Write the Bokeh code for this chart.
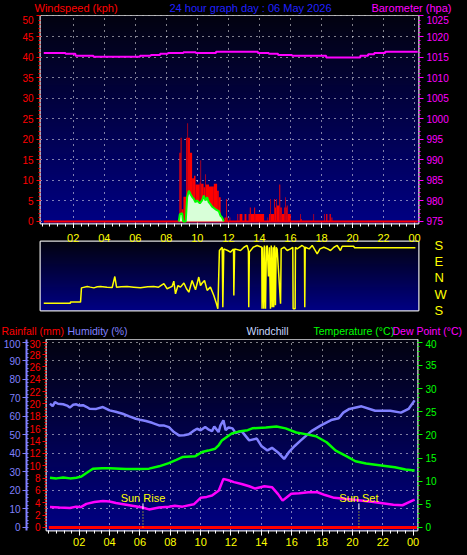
import numpy as np
from bokeh.plotting import figure
from bokeh.models import LinearAxis, Range1d, FixedTicker, SingleIntervalTicker
from bokeh.layouts import column
from bokeh.core.properties import value
from bokeh.embed import file_html
from bokeh.resources import INLINE

# ---------------- data ----------------
hour_ticks = [2, 4, 6, 8, 10, 12, 14, 16, 18, 20, 22, 24]
hour_labels = ["02", "04", "06", "08", "10", "12", "14", "16", "18", "20", "22", "00"]

# barometer (hPa), step series
baro_time = [0.1, 1.5, 2.14, 3.3, 6.3, 7.0, 7.6, 8.1, 9.1, 9.9, 11.2, 13.9, 14.6, 15.2, 16.1,
             18.3, 20.5, 21.0, 21.4, 22.1, 24.2]
baro_hpa = [1016.0, 1015.8, 1015.3, 1015.1, 1015.3, 1015.5, 1015.8, 1016.0, 1016.2, 1016.0,
            1016.3, 1016.0, 1015.8, 1015.5, 1015.3, 1014.9, 1015.3, 1015.7, 1016.0, 1016.3, 1016.3]

# wind gust bars (start hour, end hour, kph)
gusts = [(8.84, 8.92, 16.7), (8.92, 8.98, 20.4), (8.98, 9.10, 3.0), (9.10, 9.28, 6.0),
         (9.28, 9.36, 20.4), (9.36, 9.40, 23.9), (9.40, 9.52, 20.4), (9.52, 9.66, 16.7),
         (9.66, 9.78, 10.5), (9.78, 9.88, 11.1), (9.88, 10.15, 9.0), (10.15, 10.20, 9.5),
         (10.20, 10.24, 14.9), (10.24, 10.40, 9.2), (10.40, 10.50, 8.3), (10.50, 10.54, 11.5),
         (10.54, 10.75, 9.0), (10.75, 11.06, 8.5), (11.06, 11.27, 9.2), (11.27, 11.38, 7.5),
         (11.38, 11.50, 5.9), (11.50, 11.60, 1.0), (11.75, 11.85, 1.0), (11.85, 11.90, 5.5),
         (11.90, 11.96, 1.0), (12.07, 12.12, 1.0), (12.58, 12.63, 1.8), (12.72, 12.90, 1.8),
         (13.04, 13.16, 1.8), (13.30, 13.38, 1.8), (13.38, 13.44, 3.4), (13.44, 13.66, 1.8),
         (13.66, 13.72, 3.4), (13.72, 14.10, 1.8), (14.10, 14.30, 1.8), (14.52, 14.56, 1.0),
         (14.62, 14.70, 1.8), (14.70, 14.74, 5.5), (14.74, 14.95, 1.8), (14.95, 15.00, 5.5),
         (15.00, 15.08, 3.4), (15.08, 15.12, 5.5), (15.12, 15.28, 3.9), (15.28, 15.34, 9.0),
         (15.34, 15.44, 3.4), (15.44, 15.60, 1.8), (15.60, 15.66, 3.4), (15.66, 15.70, 5.9),
         (15.70, 15.76, 3.4), (15.76, 15.82, 3.9), (15.82, 16.02, 1.8), (16.62, 16.66, 1.8),
         (16.66, 16.72, 0.6), (17.48, 17.52, 1.8), (18.18, 18.22, 1.8), (18.30, 18.38, 1.8),
         (18.52, 18.60, 1.8), (18.64, 18.70, 1.0)]
calm_time = [0.1, 24.2]
calm_kph = [0.0, 0.0]

# average wind speed (hour, kph)
wind = [(8.80, 0), (8.87, 1.8), (9.02, 2.0), (9.08, 0), (9.25, 0), (9.34, 5.9), (9.45, 7.5),
        (9.55, 6.7), (9.66, 6.0), (9.77, 5.5), (9.88, 4.7), (9.98, 5.1), (10.16, 4.4),
        (10.31, 5.2), (10.41, 6.3), (10.52, 5.1), (10.63, 5.9), (10.73, 4.7), (10.84, 4.2),
        (10.95, 3.6), (11.06, 3.3), (11.23, 2.8), (11.38, 2.5), (11.49, 1.4), (11.59, 1.0),
        (11.70, 0)]

# wind direction (hour, unwrapped bearing: 180=S 270=W 360=N 450=E 540=S)
direction = [(0.10, 219), (1.82, 219), (1.82, 226), (2.47, 226), (2.53, 305), (2.90, 313),
             (3.10, 309), (3.33, 305), (3.55, 311), (3.76, 313), (4.18, 309), (4.51, 307),
             (4.68, 368), (4.79, 309), (5.10, 311), (5.47, 313), (5.90, 309), (6.33, 305),
             (6.80, 311), (7.19, 313), (7.50, 309), (7.84, 328), (8.05, 300), (8.37, 313),
             (8.48, 342), (8.59, 272), (8.75, 318), (8.91, 309), (9.13, 332), (9.30, 300),
             (9.45, 281), (9.66, 346), (9.88, 294), (10.09, 365), (10.20, 318), (10.31, 332),
             (10.46, 346), (10.63, 291), (10.84, 309), (11.06, 263), (11.23, 217), (11.32, 189),
             (11.42, 512), (11.60, 530), (11.64, 198), (11.70, 521), (11.95, 512), (12.13, 503),
             (12.33, 521), (12.35, 263), (12.40, 521), (12.78, 512), (13.00, 530), (13.20, 540),
             (13.29, 512), (13.31, 198), (13.35, 503), (13.60, 530), (13.85, 540), (14.15, 530),
             (14.17, 189), (14.20, 530), (14.28, 189), (14.32, 540), (14.39, 189), (14.45, 530),
             (14.50, 540), (14.58, 368), (14.64, 530), (14.71, 189), (14.76, 540), (14.82, 198),
             (14.88, 530), (14.92, 198), (14.97, 540), (15.03, 208), (15.08, 530), (15.14, 520),
             (15.36, 217), (15.40, 521), (15.60, 530), (15.79, 512), (16.00, 521), (16.15, 530),
             (16.17, 189), (16.30, 189), (16.32, 530), (16.43, 521), (16.75, 540), (16.90, 530),
             (16.92, 198), (16.95, 530), (17.20, 521), (17.40, 540), (17.60, 512), (17.72, 494),
             (17.90, 521), (18.15, 530), (18.40, 521), (18.58, 512), (18.80, 530), (19.01, 540),
             (19.22, 512), (19.33, 536), (20.08, 536), (20.12, 527), (24.05, 527)]
dir_ticks = [180, 270, 360, 450, 540]
dir_labels = ["S", "W", "N", "E", "S"]

humidity = [(0.07, 66.9), (0.25, 65.5), (0.4, 67.7), (0.6, 66.8), (0.94, 66.5), (1.2, 65.8),
            (1.38, 64.7), (1.6, 66.2), (1.81, 66.5), (2.0, 65.8), (2.25, 66.0), (2.5, 65.0),
            (2.68, 64.1), (3.12, 64.0), (3.56, 65.0), (4.0, 63.2), (4.4, 62.5), (4.86, 61.4),
            (5.3, 60.0), (5.73, 58.7), (6.0, 58.2), (6.39, 57.5), (6.8, 56.5), (7.26, 55.1),
            (7.6, 55.0), (7.91, 54.2), (8.24, 51.5), (8.57, 49.7), (8.9, 49.8), (9.22, 50.3),
            (9.5, 52.0), (9.76, 53.3), (10.0, 52.5), (10.3, 54.2), (10.5, 53.0), (10.75, 52.0),
            (10.9, 54.5), (11.18, 51.5), (11.3, 55.0), (11.5, 57.8), (11.65, 52.5), (11.84, 54.0),
            (12.1, 53.5), (12.3, 51.0), (12.7, 52.0), (13.2, 47.0), (13.7, 48.0), (14.0, 44.0),
            (14.4, 41.6), (14.7, 43.0), (15.1, 40.5), (15.5, 37.0), (15.8, 40.5), (16.2, 44.0),
            (16.6, 47.0), (17.3, 52.0), (17.9, 55.0), (18.6, 58.0), (19.1, 59.0), (19.4, 62.0),
            (19.8, 64.0), (20.6, 65.4), (21.5, 63.0), (22.5, 63.0), (23.2, 62.0), (23.7, 64.0),
            (24.1, 68.6)]

temperature = [(0.07, 10.75), (0.5, 10.6), (0.94, 10.8), (1.4, 10.6), (1.81, 10.75), (2.14, 11.0),
               (2.5, 11.8), (2.9, 12.7), (3.5, 12.8), (4.0, 12.8), (5.08, 12.6), (6.0, 12.6),
               (6.6, 12.7), (7.26, 13.2), (7.9, 13.9), (8.4, 14.6), (8.8, 15.2), (9.65, 15.4),
               (10.1, 16.3), (10.5, 16.6), (10.96, 17.0), (11.2, 17.8), (11.4, 18.8), (11.7, 19.5),
               (12.05, 20.3), (12.5, 20.7), (13.1, 21.0), (13.4, 21.4), (14.3, 21.6), (15.0, 21.8),
               (15.6, 21.4), (16.3, 20.5), (17.0, 20.1), (17.6, 19.7), (18.3, 18.4), (18.9, 16.6),
               (19.6, 15.4), (20.2, 14.3), (20.9, 13.8), (21.9, 13.4), (22.8, 13.0), (23.5, 12.5),
               (24.1, 12.3)]

dew_point = [(0.07, 4.4), (0.7, 4.3), (1.38, 4.2), (1.8, 4.5), (2.1, 4.4), (2.47, 5.1), (3.0, 5.5),
             (3.56, 5.7), (4.0, 5.6), (4.42, 5.3), (5.3, 4.8), (6.17, 4.3), (6.6, 3.9), (7.26, 4.3),
             (7.9, 4.5), (8.3, 4.7), (8.8, 4.5), (9.55, 5.0), (10.0, 6.4), (10.4, 6.6), (10.75, 6.9),
             (11.2, 8.0), (11.5, 10.5), (11.84, 10.2), (12.2, 9.8), (12.7, 9.4), (13.2, 8.9),
             (13.6, 8.4), (14.2, 8.9), (14.7, 8.7), (15.1, 7.2), (15.4, 5.8), (15.7, 6.6),
             (15.97, 7.3), (16.5, 7.4), (17.1, 7.6), (17.7, 7.6), (18.2, 7.0), (18.8, 6.4),
             (20.1, 6.0), (21.4, 5.5), (22.7, 4.9), (23.3, 4.8), (23.7, 5.4), (24.1, 6.0)]

rain_time = [0.0, 24.25]
rain_mm = [0.0, 0.0]

sun_times = [6.2, 20.43]
sun_names = ["Sun Rise", "Sun Set"]

top_titles = ["Windspeed (kph)", "24 hour graph day : 06 May 2026", "Barometer (hpa)"]
bottom_titles = ["Rainfall (mm)", "Humidity (%)", "Windchill", "Temperature (°C)", "Dew Point (°C)"]

# ---------------- helpers ----------------
FONT = "Liberation Sans"
RED, MAG, YEL, GRN, HUMC = "#ff0000", "#ff00ff", "#ffff00", "#00ff00", "#8080ff"
W = 467


def unzip(pairs):
    a, b = zip(*pairs)
    return list(a), list(b)


def base_fig(w, h, xr, yr, **kw):
    p = figure(width=w, height=h, x_range=xr, y_range=yr, output_backend="svg",
               toolbar_location=None, title=None, **kw)
    p.frame_align = False
    p.background_fill_color = "black"
    p.border_fill_color = "black"
    p.outline_line_color = "#e0e0e0"
    p.outline_line_width = 2
    return p


def header_fig(h):
    p = figure(width=W, height=h, x_range=Range1d(0, W), y_range=Range1d(0, h),
               output_backend="svg", toolbar_location=None, x_axis_location=None,
               y_axis_location=None, min_border=0, title=None)
    p.frame_align = False
    p.background_fill_color = "black"
    p.border_fill_color = "black"
    p.outline_line_color = None
    p.grid.visible = False
    return p


def gradient(p, xr, yr, name="default"):
    n = 256
    img = np.empty((n, 4), dtype=np.uint32)
    v = img.view(dtype=np.uint8).reshape((n, 4, 4))
    for i in range(n):
        t = i / (n - 1)  # 0 = bottom, 1 = top
        v[i, :, 0] = int(3 * t)
        v[i, :, 1] = int(3 * t)
        v[i, :, 2] = int(132 - 116 * t)
        v[i, :, 3] = 255
    r = p.image_rgba(image=[img], x=xr.start, y=yr.start, dw=xr.end - xr.start,
                     dh=yr.end - yr.start, y_range_name=name)
    r.level = "image"


def style_axis(ax, color, size="10px", tick_out=4, minor_out=2, minor_in=0, standoff=3):
    ax.axis_line_color = None
    ax.major_tick_line_color = color
    ax.minor_tick_line_color = color
    ax.major_tick_in = 0
    ax.major_tick_out = tick_out
    ax.minor_tick_in = minor_in
    ax.minor_tick_out = minor_out
    ax.major_label_text_color = color
    ax.major_label_text_font = FONT
    ax.major_label_text_font_size = size
    ax.major_label_standoff = standoff


def grid_style(g, ticker):
    g.ticker = ticker
    g.grid_line_color = "white"
    g.grid_line_dash = "1 5"
    g.grid_line_width = 1


minor_hours = [0.5 * i for i in range(49)]
label_map = {t: s for t, s in zip(hour_ticks, hour_labels)}

# ---------------- header row 1 ----------------
H1 = 15
h1 = header_fig(H1)
for txt, xp, al, col in zip(top_titles, [34, 250, 451], ["left", "center", "right"],
                            [RED, "#2020ff", MAG]):
    h1.text(x=[xp], y=[H1 / 2], text=[txt], text_color=col, text_font=value(FONT),
            text_font_size="11px", text_align=al, text_baseline="middle")

# ---------------- panel 1: wind speed / barometer ----------------
X1 = Range1d(-0.11, 24.25)
Y1 = Range1d(-0.49, 50.12)
p1 = base_fig(W, 228 - H1, X1, Y1, min_border_left=40, min_border_right=49,
              min_border_top=0, min_border_bottom=5)
p1.extra_y_ranges = {"baro": Range1d(974.51, 1025.12)}
gradient(p1, X1, Y1)

ax = p1.yaxis[0]
ax.ticker = SingleIntervalTicker(interval=5, num_minor_ticks=5)
style_axis(ax, RED, tick_out=4, minor_out=2)
bax = LinearAxis(y_range_name="baro", ticker=SingleIntervalTicker(interval=5, num_minor_ticks=5))
style_axis(bax, MAG, tick_out=5, minor_out=2)
p1.add_layout(bax, "right")

xa = p1.xaxis[0]
xa.ticker = FixedTicker(ticks=hour_ticks, minor_ticks=minor_hours)
style_axis(xa, "white", size="0px", tick_out=5, minor_out=3, standoff=0)
xa.major_label_text_alpha = 0

grid_style(p1.xgrid[0], FixedTicker(ticks=hour_ticks))
grid_style(p1.ygrid[0], SingleIntervalTicker(interval=5))

p1.line(calm_time, calm_kph, color=RED, line_width=2)
g_start = [g[0] for g in gusts]
g_end = [g[1] for g in gusts]
g_kph = [g[2] for g in gusts]
p1.quad(left=g_start, right=g_end, bottom=0, top=g_kph, fill_color=RED, line_color=None)
w_t, w_v = unzip(wind)
p1.varea(x=w_t, y1=0, y2=w_v, fill_color="#d8ffd8")
p1.line(w_t, w_v, color=GRN, line_width=2)
p1.step(baro_time, baro_hpa, mode="after", color=MAG, line_width=2, y_range_name="baro")

# ---------------- panel 2: wind direction ----------------
X2 = Range1d(-0.11, 24.25)
Y2 = Range1d(179.5, 562)
p2 = base_fig(W, 90, X2, Y2, x_axis_location="above", y_axis_location="right",
              min_border_left=40, min_border_right=49, min_border_top=13, min_border_bottom=8)
gradient(p2, X2, Y2)
p2.grid.visible = False
xa2 = p2.xaxis[0]
xa2.ticker = FixedTicker(ticks=hour_ticks)
xa2.major_label_overrides = label_map
style_axis(xa2, YEL, size="11px", tick_out=0, minor_out=0, standoff=0)
ya2 = p2.yaxis[0]
ya2.ticker = FixedTicker(ticks=dir_ticks)
ya2.major_label_overrides = {t: s for t, s in zip(dir_ticks, dir_labels)}
style_axis(ya2, YEL, size="13px", tick_out=0, minor_out=0, standoff=16)
d_t, d_v = unzip(direction)
p2.line(d_t, d_v, color=YEL, line_width=1.5)

# ---------------- header row 2 ----------------
h2 = header_fig(21)
for txt, xp, col in zip(bottom_titles, [1, 67, 246, 313, 392],
                        [RED, HUMC, "#c8d8ff", GRN, MAG]):
    h2.text(x=[xp], y=[9], text=[txt], text_color=col, text_font=value(FONT),
            text_font_size="10.5px", text_align="left", text_baseline="alphabetic")

# ---------------- panel 3: rain / humidity / temperature ----------------
X3 = Range1d(-0.157, 24.29)
RAIN = Range1d(-0.486, 30.44)
p3 = base_fig(W, 216, X3, RAIN, min_border_left=43, min_border_right=50,
              min_border_top=0, min_border_bottom=25)
p3.extra_y_ranges = {"hum": Range1d(-1.62, 101.46), "temp": Range1d(-0.65, 40.58)}
gradient(p3, X3, RAIN)

rax = p3.yaxis[0]
rax.ticker = SingleIntervalTicker(interval=2, num_minor_ticks=4)
style_axis(rax, RED, tick_out=4, minor_out=2, standoff=2)
hax = LinearAxis(y_range_name="hum", ticker=SingleIntervalTicker(interval=10, num_minor_ticks=5))
style_axis(hax, HUMC, tick_out=4, minor_out=0, minor_in=2, standoff=2)
hax.axis_line_color = HUMC
hax.axis_line_width = 2
p3.add_layout(hax, "left")
tax = LinearAxis(y_range_name="temp", ticker=SingleIntervalTicker(interval=5, num_minor_ticks=5))
style_axis(tax, GRN, tick_out=5, minor_out=2, standoff=3)
p3.add_layout(tax, "right")

xa3 = p3.xaxis[0]
xa3.ticker = FixedTicker(ticks=hour_ticks, minor_ticks=minor_hours)
xa3.major_label_overrides = label_map
style_axis(xa3, "white", size="11px", tick_out=5, minor_out=3, standoff=2)
xa3.major_label_text_color = YEL

grid_style(p3.xgrid[0], FixedTicker(ticks=hour_ticks))
grid_style(p3.ygrid[0], FixedTicker(ticks=[3 * k for k in range(1, 11)]))

p3.line(rain_time, rain_mm, color=RED, line_width=3)
h_t, h_v = unzip(humidity)
p3.line(h_t, h_v, color=HUMC, line_width=2.5, y_range_name="hum")
t_t, t_v = unzip(temperature)
p3.line(t_t, t_v, color=GRN, line_width=2.5, y_range_name="temp")
dp_t, dp_v = unzip(dew_point)
p3.line(dp_t, dp_v, color=MAG, line_width=2.5, y_range_name="temp")

n_sun = len(sun_times)
p3.segment(x0=sun_times, x1=sun_times, y0=[0] * n_sun, y1=[9.7] * n_sun, color=YEL,
           line_width=1, line_dash="1 2", y_range_name="hum")
p3.segment(x0=sun_times, x1=sun_times, y0=[9.7] * n_sun, y1=[13.0] * n_sun, color="white",
           line_width=1, y_range_name="hum")
p3.text(x=sun_times, y=[15.7] * n_sun, text=sun_names, text_color=YEL, text_font=value(FONT),
        text_font_size="11px", text_align="center", text_baseline="middle", y_range_name="hum")

layout = column(h1, p1, p2, h2, p3, spacing=0)

template = """
{% block postamble %}
<style>
html, body { margin: 0 !important; padding: 0 !important; background: #000000; }
</style>
{% endblock %}
"""
html = file_html(layout, INLINE, title="24 hour graph", template=template)
open("out.html", "w").write(html)
